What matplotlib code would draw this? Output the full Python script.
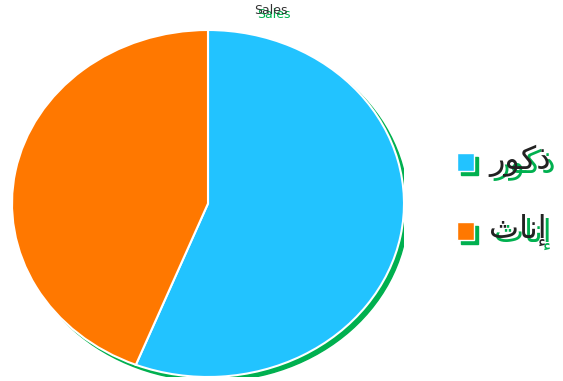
import matplotlib
matplotlib.use("Agg")
import matplotlib.pyplot as plt
from matplotlib.patches import Ellipse, Rectangle

# data
labels = ["ذكور", "إناث"]
# pre-shaped (presentation forms, visual order) since matplotlib has no Arabic shaping
labels_shaped = ["\ufead\ufeee\ufedb\ufeab", "\ufe99\ufe8e\ufee7\ufe87"]
values = [56, 44]
colors = ["#22c3ff", "#ff7800"]
shadow_green = "#00b04f"
title = "Sales"

W, H = 563, 381
fig = plt.figure(figsize=(W / 100, H / 100), dpi=100)
ax = fig.add_axes([12 / W, 4 / H, 392 / W, 347 / H])

# green drop shadow under the pie
ax.add_patch(Ellipse((0.022, -0.024), 2, 2, color=shadow_green, zorder=0))
ax.pie(values, colors=colors, startangle=90, counterclock=False,
       wedgeprops=dict(edgecolor="white", linewidth=1.5), radius=1)
ax.set_aspect("auto")
ax.set_xlim(-1, 1)
ax.set_ylim(-1, 1)
ax.axis("off")

# title with green shadow
fig.text(274 / W, 1 - 15 / H, title, ha="center", va="center", fontsize=9, color=shadow_green)
fig.text(271 / W, 1 - 11 / H, title, ha="center", va="center", fontsize=9, color="#333333")

# legend with green shadows
tops = [153, 222]
for lab, col, top in zip(labels_shaped, colors, tops):
    fig.patches.append(Rectangle((461 / W, 1 - (top + 22) / H), 17 / W, 18 / H,
                                 transform=fig.transFigure, color=shadow_green, figure=fig))
    fig.patches.append(Rectangle((457 / W, 1 - (top + 18) / H), 17 / W, 18 / H,
                                 transform=fig.transFigure, color=col, ec="white", lw=1, figure=fig))
    fig.text(494 / W, 1 - (top + 12) / H, lab, ha="left", va="center", fontsize=23,
             color=shadow_green, family="DejaVu Sans")
    fig.text(489 / W, 1 - (top + 8) / H, lab, ha="left", va="center", fontsize=23,
             color="#222222", family="DejaVu Sans")

fig.savefig("out.png", dpi=100)
